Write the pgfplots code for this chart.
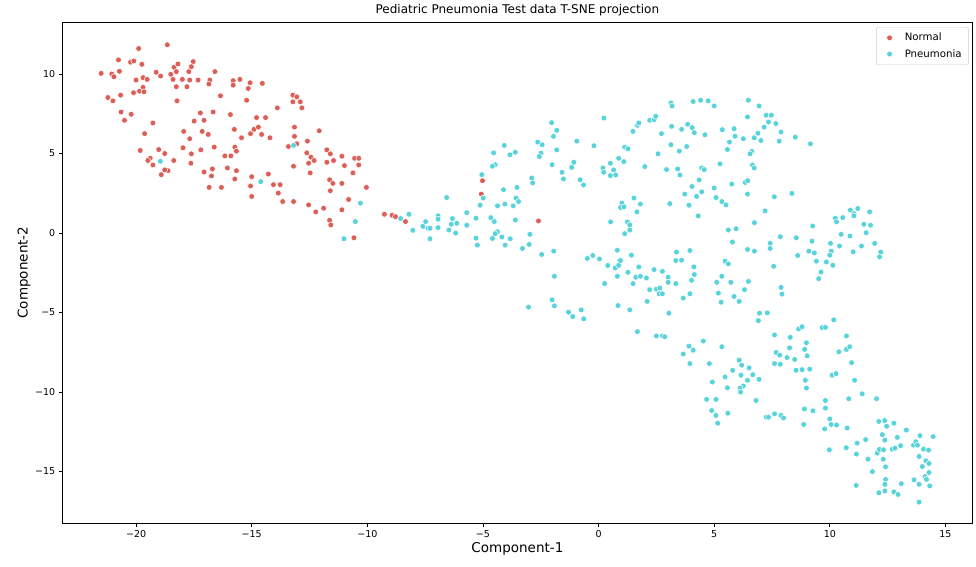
\documentclass[border=0pt]{standalone}
\usepackage{pgfplots}
\pgfplotsset{compat=1.18}
\usepackage{fontspec}
\setmainfont{DejaVu Sans}
\definecolor{cNormal}{HTML}{DB5F57}
\definecolor{cPneu}{HTML}{57D3DB}
\begin{document}
\begin{tikzpicture}
\begin{axis}[name=ax,
    scale only axis, width=910pt, height=501pt,
    xmin=-23.19, xmax=16.17, ymin=-18.24, ymax=13.27,
    xtick={-20,-15,...,15}, xticklabels={−20,−15,−10,−5,0,5,10,15},
    ytick={-15,-10,...,10}, yticklabels={−15,−10,−5,0,5,10},
    tick pos=left, tick align=outside, major tick length=3.5pt,
    tick style={black, line width=0.8pt},
    axis line style={black, line width=0.8pt},
    ticklabel style={font=\fontsize{9.5}{11}\selectfont},
    xlabel={Component-1}, ylabel={Component-2},
    label style={font=\fontsize{13.5}{16}\selectfont},
    xlabel style={yshift=2pt}, ylabel style={yshift=-2pt},
    title={Pediatric Pneumonia Test data T-SNE projection},
    title style={font=\fontsize{12}{14}\selectfont, yshift=-4pt},
    legend style={at={(rel axis cs:0.996,0.99)}, anchor=north east,
      draw=black!20, rounded corners=2pt, font=\fontsize{10.2}{12}\selectfont,
      row sep=3pt, inner xsep=5pt, inner ysep=4pt},
    legend image code/.code={\path (0pt,0pt) (21pt,0pt); \path[#1] plot coordinates {(8pt,0pt)};},
    legend cell align=left,
]
\addplot[only marks, mark=*, mark size=2.9pt, mark options={fill=cNormal, draw=white, line width=0.5pt}] table {
x y
-19.89 11.60
-18.65 11.84
-20.76 10.89
-20.24 10.74
-20.10 10.82
-19.75 10.61
-21.51 10.04
-21.05 10.00
-20.96 9.83
-20.72 10.17
-20.00 9.62
-19.70 9.77
-19.52 9.66
-19.13 10.11
-18.94 9.87
-18.50 9.98
-18.36 10.42
-18.19 10.63
-18.26 10.15
-17.53 10.78
-17.61 10.46
-17.72 10.15
-18.40 9.66
-18.00 9.66
-17.68 9.62
-17.32 9.62
-16.59 10.15
-16.81 9.62
-16.85 9.37
-15.80 9.58
-15.80 9.30
-15.51 9.66
-15.07 9.45
-15.15 9.09
-14.54 9.41
-18.26 9.20
-17.80 9.20
-19.70 9.16
-19.85 8.92
-19.66 8.88
-20.11 8.82
-20.67 8.67
-21.22 8.52
-21.00 8.31
-18.23 8.31
-16.35 8.63
-15.22 8.35
-20.65 7.61
-20.21 7.47
-20.50 7.09
-19.27 6.92
-17.22 7.55
-16.67 7.61
-17.49 7.04
-17.06 7.09
-15.92 7.45
-14.79 7.26
-14.40 7.26
-19.63 6.25
-17.94 6.39
-17.68 5.93
-17.14 6.39
-16.88 6.20
-15.75 6.52
-15.44 5.99
-15.05 6.25
-14.90 6.52
-14.71 6.66
-14.57 6.20
-19.82 5.19
-19.02 5.25
-18.76 5.00
-19.39 4.70
-19.49 4.56
-19.27 4.28
-18.37 4.56
-18.91 3.67
-18.62 3.92
-18.76 3.97
-17.97 5.36
-17.61 4.98
-17.63 4.39
-17.20 5.23
-16.62 5.40
-15.73 5.40
-15.66 5.15
-16.16 4.85
-15.90 4.85
-16.05 4.09
-15.66 3.92
-17.06 3.84
-16.70 4.03
-16.74 3.59
-15.73 3.40
-16.84 2.87
-16.31 2.87
-15.00 3.54
-15.05 2.96
-15.00 2.30
-14.28 3.71
-13.22 8.67
-13.05 8.56
-13.22 8.25
-12.90 8.25
-12.83 7.87
-13.89 7.87
-14.21 5.99
-13.15 6.66
-13.15 6.08
-12.08 6.43
-13.41 5.44
-13.05 5.61
-12.59 5.78
-12.62 5.04
-12.44 4.77
-12.30 4.56
-12.54 4.39
-11.75 5.23
-11.60 4.98
-11.46 4.56
-11.75 4.45
-11.10 4.83
-10.99 4.24
-10.55 4.70
-10.37 4.70
-10.37 4.28
-10.62 3.78
-13.19 4.20
-12.47 3.78
-14.06 3.04
-13.77 3.04
-13.85 2.51
-13.66 1.98
-13.19 1.98
-11.63 3.35
-11.49 3.12
-11.60 2.66
-11.10 3.12
-10.04 2.87
-12.54 1.77
-12.23 1.33
-11.89 1.56
-10.81 2.11
-11.10 1.46
-11.63 0.80
-11.58 0.51
-10.58 -0.30
-9.26 1.18
-8.93 1.12
-8.78 1.03
-8.35 0.72
-5.02 3.29
-5.07 2.45
-2.60 0.76
};
\addlegendentry{Normal}
\addplot[only marks, mark=*, mark size=2.9pt, mark options={fill=cPneu, draw=white, line width=0.5pt}] table {
x y
-18.95 4.51
-14.61 3.23
-13.19 5.51
-10.30 1.88
-10.52 0.72
-11.01 -0.36
-8.56 0.91
-8.20 1.18
-8.03 0.17
-7.60 0.42
-7.48 0.72
-7.38 0.30
-7.29 0.30
-7.29 -0.36
-6.94 1.08
-6.94 0.87
-6.94 0.34
-6.57 2.23
-6.47 0.19
-6.32 0.91
-6.37 0.55
-6.13 0.61
-6.18 0.00
-5.70 1.28
-5.70 0.49
-5.30 0.93
-5.30 -0.32
-5.24 -0.76
-5.12 1.75
-4.99 2.20
-5.05 3.67
-4.54 5.04
-4.47 4.30
-4.59 4.20
-4.08 5.51
-3.83 4.92
-3.60 5.08
-4.66 0.97
-4.51 0.72
-4.37 1.71
-4.05 1.82
-4.11 2.72
-3.69 1.71
-3.53 2.87
-3.57 2.20
-3.46 1.98
-3.60 0.82
-4.37 0.08
-4.47 -0.04
-4.59 -0.34
-4.18 -0.25
-4.04 -0.76
-3.82 -0.36
-3.29 -0.97
-3.00 -0.72
-2.97 -0.08
-2.46 -1.35
-1.94 -1.14
-1.91 -2.72
-2.01 -4.20
-1.91 -4.58
-3.03 -4.66
-1.30 -4.98
-2.89 3.46
-2.85 3.15
-2.63 5.72
-2.44 5.55
-2.49 5.02
-2.56 4.81
-1.81 5.23
-2.01 4.30
-1.58 3.82
-1.52 3.40
-2.03 6.94
-1.81 6.46
-1.95 6.08
-0.94 5.78
-0.20 5.49
0.23 7.23
-1.16 4.13
-1.07 4.45
-0.80 3.35
-0.65 3.02
0.19 4.09
0.22 3.82
0.51 4.39
0.65 3.97
0.51 3.61
0.74 3.65
0.87 4.70
1.09 4.49
1.13 5.40
1.27 5.30
1.49 6.39
1.68 6.77
1.74 6.92
2.21 7.09
2.40 7.13
2.47 7.34
2.72 6.25
2.00 4.18
2.57 4.98
3.13 8.18
3.18 7.99
3.16 6.71
3.59 6.52
3.85 6.84
4.05 6.63
4.14 6.31
3.13 5.55
3.49 5.15
3.81 5.44
2.94 3.99
3.42 4.03
3.52 3.65
4.09 8.27
4.04 2.93
3.73 2.45
4.24 2.30
3.91 1.75
4.31 1.08
3.08 1.85
1.01 1.88
0.95 1.60
1.10 1.65
1.53 2.20
1.81 1.82
1.66 1.33
0.52 0.70
1.25 0.70
1.35 0.51
1.35 0.19
1.13 -0.04
-0.49 -1.60
-0.25 -1.41
0.04 -1.63
0.81 -1.08
1.42 -1.39
0.91 -1.71
3.37 -1.20
3.59 -1.71
3.95 -1.10
4.41 8.35
4.74 8.31
5.00 7.99
6.48 8.35
6.94 7.99
6.44 7.30
7.25 7.41
7.47 7.41
7.35 6.98
7.67 6.88
7.16 6.66
4.60 6.18
5.35 6.50
5.86 6.56
5.90 6.09
6.26 5.93
6.73 5.99
6.89 6.28
7.02 5.82
7.89 6.35
7.81 5.78
8.51 6.03
9.16 5.61
5.66 5.72
5.57 5.25
6.63 5.13
6.55 4.98
5.25 4.35
4.46 4.09
4.57 3.99
6.65 4.28
6.73 4.09
4.35 3.34
4.46 2.59
5.00 2.83
5.08 2.23
5.33 1.98
5.51 1.77
5.76 3.08
6.34 3.18
6.45 3.29
6.44 2.45
7.60 2.28
8.36 2.49
7.20 1.39
6.74 0.65
5.61 0.19
5.95 0.27
5.79 -0.57
7.42 -0.65
7.42 -0.97
6.44 -1.03
6.74 -1.14
7.86 -0.23
8.55 -0.30
9.23 -0.51
9.26 0.44
9.09 -1.14
9.33 -1.25
9.42 -1.77
8.61 -1.41
10.03 -0.65
10.42 -0.82
10.06 -1.14
10.00 -1.39
11.01 -1.18
11.37 -0.82
11.94 -0.65
12.20 -1.20
12.15 -1.50
10.24 0.93
10.29 0.70
10.56 0.97
10.89 1.44
11.04 1.22
11.04 1.08
11.21 1.54
11.72 1.33
11.47 0.55
11.76 0.49
11.57 0.02
10.49 -0.08
10.87 -0.19
-1.12 -5.25
-0.75 -4.83
-0.64 -5.40
0.40 -2.04
0.72 -2.20
0.87 -2.03
0.95 -1.73
0.81 -2.72
0.26 -3.18
0.84 -4.56
1.35 -4.83
1.27 -2.47
1.49 -3.18
1.74 -2.13
1.61 -2.78
1.81 -2.72
2.07 -2.83
1.68 -6.20
2.21 -3.56
2.50 -3.53
2.65 -3.46
2.62 -3.82
2.76 -3.82
2.76 -2.41
2.40 -2.30
2.10 -4.30
2.50 -6.47
2.76 -6.47
2.86 -6.52
3.04 -5.04
3.01 -2.78
3.01 -3.10
3.34 -3.18
3.34 -1.73
4.12 -2.13
4.14 -2.61
4.02 -2.97
3.95 -3.82
3.66 -4.09
3.91 -7.11
4.09 -7.41
3.66 -7.61
9.62 -2.45
9.52 -2.87
9.85 -1.82
10.13 -2.03
7.57 -2.09
5.47 -1.77
5.61 -1.94
5.33 -2.72
5.11 -3.10
5.72 -3.10
6.48 -3.04
6.31 -3.56
5.18 -3.78
5.30 -4.35
5.86 -3.99
6.08 -4.30
7.89 -3.42
7.93 -3.84
6.96 -5.04
7.30 -5.02
6.91 -5.51
7.61 -6.41
8.29 -6.56
8.26 -7.22
7.68 -7.51
7.83 -7.68
8.15 -7.83
8.48 -7.95
7.61 -8.21
7.86 -8.25
8.99 -6.90
8.91 -7.32
9.02 -7.72
8.54 -8.63
8.80 -8.59
9.13 -8.56
8.94 -9.26
8.99 -9.75
8.65 -6.03
8.80 -5.89
9.67 -5.95
9.81 -5.93
10.17 -5.46
10.39 -7.47
10.72 -7.32
10.86 -7.15
10.72 -6.47
10.94 -8.15
11.07 -9.26
10.10 -8.94
10.27 -8.84
11.40 -10.11
12.02 -10.42
10.82 -10.42
9.81 -10.53
4.53 -6.79
4.09 -7.36
3.95 -8.21
5.33 -7.15
4.79 -8.21
4.92 -9.37
4.67 -10.46
5.08 -10.46
6.08 -7.99
6.19 -8.31
6.51 -8.48
6.67 -8.91
6.94 -9.20
5.80 -8.63
5.47 -9.05
6.16 -8.94
6.44 -9.26
5.57 -9.73
6.26 -9.62
6.12 -9.75
6.14 -10.00
6.81 -10.53
4.89 -11.16
5.07 -11.47
5.15 -11.96
5.59 -11.33
7.25 -11.58
7.35 -11.58
7.61 -11.37
7.89 -11.47
8.00 -11.63
8.90 -11.06
9.27 -11.18
8.87 -12.04
9.81 -11.01
10.00 -11.69
10.06 -12.04
10.29 -12.07
9.78 -12.32
10.75 -12.26
9.98 -13.63
10.71 -13.50
11.18 -13.21
11.15 -13.90
11.55 -12.99
11.65 -14.22
11.84 -15.00
11.14 -15.87
12.12 -11.85
12.37 -11.79
12.46 -12.15
12.77 -11.96
12.27 -12.68
12.92 -12.85
12.38 -13.02
13.31 -12.39
12.05 -13.84
12.14 -13.61
12.32 -13.63
12.31 -14.22
12.70 -13.59
12.82 -13.53
13.06 -13.37
12.41 -14.70
12.41 -15.49
12.38 -15.80
12.12 -16.33
12.38 -16.22
12.77 -16.28
12.95 -16.44
13.09 -15.76
13.90 -12.74
14.47 -12.80
13.62 -13.34
13.72 -13.12
13.79 -13.34
14.05 -13.59
14.27 -13.65
13.86 -14.05
14.15 -14.32
14.29 -14.49
14.00 -14.68
14.29 -15.06
14.12 -15.32
14.18 -15.49
13.64 -15.52
13.86 -15.80
14.32 -15.90
13.86 -16.92
};
\addlegendentry{Pneumonia}
\end{axis}
\pgfresetboundingbox
\path ([shift={(-62.3pt,-43.7pt)}]ax.south west) rectangle ([shift={(3.5pt,22pt)}]ax.north east);
\end{tikzpicture}
\end{document}
